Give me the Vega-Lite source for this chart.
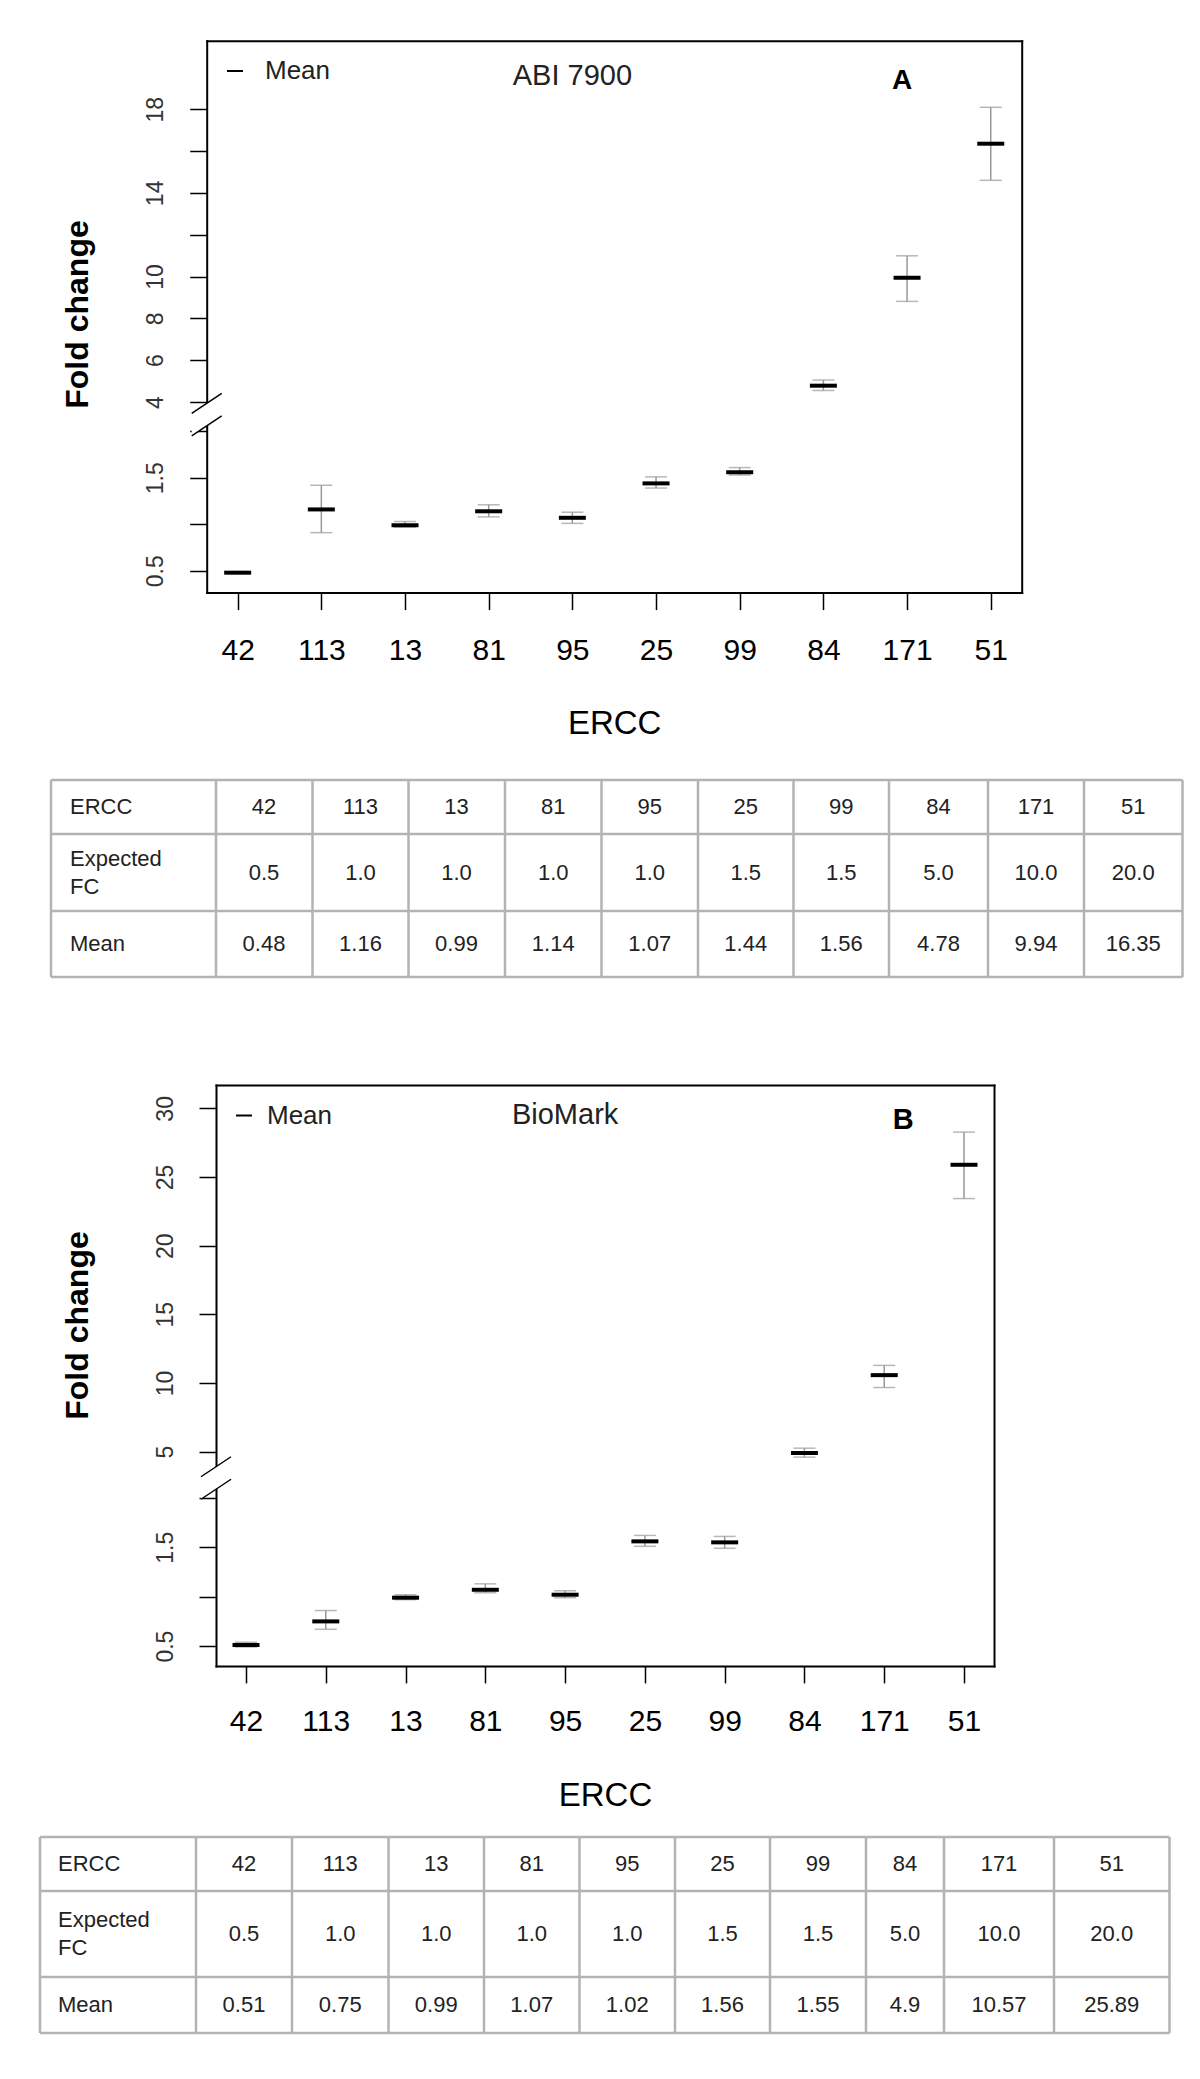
{
"$schema":"https://vega.github.io/schema/vega-lite/v6.json",
"width":1200,"height":2079,"autosize":{"type":"none"},"padding":0,"background":"white",
"config":{
 "view":{"stroke":null},
 "font":"Liberation Sans",
 "axis":{"grid":false,"domainColor":"black","domainWidth":2,"domainCap":"square","tickColor":"black","tickWidth":1.5,"tickSize":17,"labelFont":"Liberation Sans","titleFont":"Liberation Sans","labelOverlap":false,"labelBound":false,"labelFlush":false,"titleColor":"black"}
},
"datasets":{
 "fcA":[
  {"ercc":"42","expected":0.5,"mean":0.48,"lo":0.47,"hi":0.49},
  {"ercc":"113","expected":1.0,"mean":1.16,"lo":0.91,"hi":1.42},
  {"ercc":"13","expected":1.0,"mean":0.99,"lo":0.97,"hi":1.03},
  {"ercc":"81","expected":1.0,"mean":1.14,"lo":1.08,"hi":1.21},
  {"ercc":"95","expected":1.0,"mean":1.07,"lo":1.01,"hi":1.13},
  {"ercc":"25","expected":1.5,"mean":1.44,"lo":1.39,"hi":1.51},
  {"ercc":"99","expected":1.5,"mean":1.56,"lo":1.53,"hi":1.61},
  {"ercc":"84","expected":5.0,"mean":4.78,"lo":4.55,"hi":5.05},
  {"ercc":"171","expected":10.0,"mean":9.94,"lo":8.81,"hi":10.99},
  {"ercc":"51","expected":20.0,"mean":16.35,"lo":14.6,"hi":18.09}],
 "fcB":[
  {"ercc":"42","expected":0.5,"mean":0.51,"lo":0.49,"hi":0.54},
  {"ercc":"113","expected":1.0,"mean":0.75,"lo":0.67,"hi":0.86},
  {"ercc":"13","expected":1.0,"mean":0.99,"lo":0.97,"hi":1.02},
  {"ercc":"81","expected":1.0,"mean":1.07,"lo":1.04,"hi":1.13},
  {"ercc":"95","expected":1.0,"mean":1.02,"lo":0.99,"hi":1.06},
  {"ercc":"25","expected":1.5,"mean":1.56,"lo":1.51,"hi":1.62},
  {"ercc":"99","expected":1.5,"mean":1.55,"lo":1.49,"hi":1.61},
  {"ercc":"84","expected":5.0,"mean":4.9,"lo":4.6,"hi":5.25},
  {"ercc":"171","expected":10.0,"mean":10.57,"lo":9.67,"hi":11.28},
  {"ercc":"51","expected":20.0,"mean":25.89,"lo":23.43,"hi":28.27}],
 "cols":[{"k":0},{"k":1},{"k":2},{"k":3},{"k":4},{"k":5},{"k":6},{"k":7},{"k":8},{"k":9},{"k":10},{"k":11}],
 "rows":[{"k":0},{"k":1},{"k":2},{"k":3}]
},
"layer":[
 {"data":{"name":"fcA"},
  "encoding":{
   "x":{"field":"ercc","type":"nominal","scale":{"type":"point","domain":["42","113","13","81","95","25","99","84","171","51"],"range":[206.7,1021.7],"padding":0.37},
    "axis":{"orient":"bottom","offset":-1486.4,"labelFontSize":30,"labelColor":"black","labelPadding":40.4,"labelBaseline":"middle","labelAngle":0,"labelAlign":"center","title":"ERCC","titleFontSize":33,"titleFontWeight":"normal","titleX":614.2,"titleY":130.4,"titleBaseline":"middle","titleAlign":"center","titleAngle":0}}},
  "layer":[
  {"mark":{"type":"rule","color":"#999999","strokeWidth":1.5},
   "encoding":{
    "y":{"field":"lo","type":"quantitative","scale":{"type":"linear","domain":[0.2656,2.068,3.952,21.275],"range":[592.6,425,403,40.7],"nice":false,"zero":false},
     "axis":{"orient":"left","offset":-206.7,"values":[0.5,1,1.5,2,4,6,8,10,12,14,16,18],"format":"~g","labelExpr":"datum.value==1||datum.value==2||datum.value==12||datum.value==16?'':datum.label","labelAngle":-90,"labelAlign":"center","labelBaseline":"middle","labelPadding":34,"labelFontSize":23,"labelColor":"#333333","title":"Fold change","titleFontSize":32,"titleFontWeight":"bold","titleAngle":270,"titleX":-129.7,"titleY":314,"titleAlign":"center","titleBaseline":"middle"}},
    "y2":{"field":"hi"}}},
  {"mark":{"type":"tick","color":"#999999","thickness":1.5,"size":22,"orient":"horizontal"},
   "encoding":{
    "y":{"field":"lo","type":"quantitative","scale":{"type":"linear","domain":[0.2656,2.068,3.952,21.275],"range":[592.6,425,403,40.7],"nice":false,"zero":false},
     "axis":{"orient":"left","offset":-206.7,"values":[0.5,1,1.5,2,4,6,8,10,12,14,16,18],"format":"~g","labelExpr":"datum.value==1||datum.value==2||datum.value==12||datum.value==16?'':datum.label","labelAngle":-90,"labelAlign":"center","labelBaseline":"middle","labelPadding":34,"labelFontSize":23,"labelColor":"#333333","title":"Fold change","titleFontSize":32,"titleFontWeight":"bold","titleAngle":270,"titleX":-129.7,"titleY":314,"titleAlign":"center","titleBaseline":"middle"}}}},
  {"mark":{"type":"tick","color":"#999999","thickness":1.5,"size":22,"orient":"horizontal"},
   "encoding":{
    "y":{"field":"hi","type":"quantitative","scale":{"type":"linear","domain":[0.2656,2.068,3.952,21.275],"range":[592.6,425,403,40.7],"nice":false,"zero":false},
     "axis":{"orient":"left","offset":-206.7,"values":[0.5,1,1.5,2,4,6,8,10,12,14,16,18],"format":"~g","labelExpr":"datum.value==1||datum.value==2||datum.value==12||datum.value==16?'':datum.label","labelAngle":-90,"labelAlign":"center","labelBaseline":"middle","labelPadding":34,"labelFontSize":23,"labelColor":"#333333","title":"Fold change","titleFontSize":32,"titleFontWeight":"bold","titleAngle":270,"titleX":-129.7,"titleY":314,"titleAlign":"center","titleBaseline":"middle"}}}},
  {"mark":{"type":"tick","thickness":4,"size":27,"orient":"horizontal","opacity":1},
   "encoding":{
    "y":{"field":"mean","type":"quantitative","scale":{"type":"linear","domain":[0.2656,2.068,3.952,21.275],"range":[592.6,425,403,40.7],"nice":false,"zero":false},
     "axis":{"orient":"left","offset":-206.7,"values":[0.5,1,1.5,2,4,6,8,10,12,14,16,18],"format":"~g","labelExpr":"datum.value==1||datum.value==2||datum.value==12||datum.value==16?'':datum.label","labelAngle":-90,"labelAlign":"center","labelBaseline":"middle","labelPadding":34,"labelFontSize":23,"labelColor":"#333333","title":"Fold change","titleFontSize":32,"titleFontWeight":"bold","titleAngle":270,"titleX":-129.7,"titleY":314,"titleAlign":"center","titleBaseline":"middle"}},
    "color":{"datum":"Mean","type":"nominal","scale":{"domain":["Mean"],"range":["black"]},
     "legend":{"orient":"none","legendX":222,"legendY":58,"title":null,"symbolType":"stroke","symbolSize":256,"symbolStrokeWidth":2,"symbolStrokeColor":"black","symbolFillColor":"black","labelFontSize":26,"labelFont":"Liberation Sans","labelColor":"#222222","labelOffset":17,"padding":0}}}}
 ]},
 {"data":{"values":[{}]},"layer":[
  {"mark":{"type":"text","text":"ABI 7900","fontSize":29,"color":"#222222","align":"center","baseline":"middle"},
   "encoding":{
    "x":{"datum":"95","type":"nominal","scale":{"type":"point","domain":["42","113","13","81","95","25","99","84","171","51"],"range":[206.7,1021.7],"padding":0.37},"axis":{"orient":"top","offset":-40.7,"ticks":false,"labels":false,"title":null}},
    "y":{"datum":19.59,"type":"quantitative","scale":{"type":"linear","domain":[0.2656,2.068,3.952,21.275],"range":[592.6,425,403,40.7],"nice":false,"zero":false},"axis":{"orient":"right","offset":-178.3,"ticks":false,"labels":false,"title":null}}}},
  {"mark":{"type":"text","text":"A","fontSize":28,"fontWeight":"bold","color":"black","align":"center","baseline":"middle","dx":-5},
   "encoding":{
    "x":{"datum":"171","type":"nominal","scale":{"type":"point","domain":["42","113","13","81","95","25","99","84","171","51"],"range":[206.7,1021.7],"padding":0.37},"axis":{"orient":"top","offset":-40.7,"ticks":false,"labels":false,"title":null}},
    "y":{"datum":19.33,"type":"quantitative","scale":{"type":"linear","domain":[0.2656,2.068,3.952,21.275],"range":[592.6,425,403,40.7],"nice":false,"zero":false},"axis":{"orient":"right","offset":-178.3,"ticks":false,"labels":false,"title":null}}}}
 ]},
 {"data":{"values":[{}]},"layer":[
  {"mark":{"type":"point","shape":"M-0.6,-0.05L0.6,-0.85L0.6,0.05L-0.6,0.85Z","size":2500,"filled":true,"color":"white","opacity":1,"strokeWidth":0},
   "encoding":{
    "x":{"datum":0,"type":"quantitative","scale":{"domain":[0,1],"range":[206.7,1021.7],"nice":false,"zero":false},"axis":null},
    "y":{"datum":2.96,"type":"quantitative","scale":{"type":"linear","domain":[0.2656,2.068,3.952,21.275],"range":[592.6,425,403,40.7],"nice":false,"zero":false},"axis":null}}},
  {"mark":{"type":"point","shape":"M-0.6,-0.05L0.6,-0.85M-0.6,0.85L0.6,0.05","size":2500,"filled":false,"color":"black","opacity":1,"strokeWidth":1.5},
   "encoding":{
    "x":{"datum":0,"type":"quantitative","scale":{"domain":[0,1],"range":[206.7,1021.7],"nice":false,"zero":false},"axis":null},
    "y":{"datum":2.96,"type":"quantitative","scale":{"type":"linear","domain":[0.2656,2.068,3.952,21.275],"range":[592.6,425,403,40.7],"nice":false,"zero":false},"axis":null}}}
 ]},
 {"layer":[
  {"data":{"name":"cols"},"mark":{"type":"rule","color":"#b3b3b3","strokeWidth":2.5},
   "encoding":{
    "x":{"field":"k","type":"quantitative","scale":{"type":"linear","domain":[0,1,2,3,4,5,6,7,8,9,10,11],"range":[51,216,312.5,408.5,505,601.5,698,793.5,889,988,1084,1182.5],"nice":false,"zero":false},"axis":null},
    "y":{"datum":0,"type":"quantitative","scale":{"type":"linear","domain":[0,1,2,3],"range":[780,834,911,977],"nice":false,"zero":false},"axis":null},
    "y2":{"datum":3}}},
  {"data":{"name":"rows"},"mark":{"type":"rule","color":"#b3b3b3","strokeWidth":2.5},
   "encoding":{
    "y":{"field":"k","type":"quantitative","scale":{"type":"linear","domain":[0,1,2,3],"range":[780,834,911,977],"nice":false,"zero":false},"axis":null},
    "x":{"datum":0,"type":"quantitative","scale":{"type":"linear","domain":[0,1,2,3,4,5,6,7,8,9,10,11],"range":[51,216,312.5,408.5,505,601.5,698,793.5,889,988,1084,1182.5],"nice":false,"zero":false},"axis":null},
    "x2":{"datum":11}}}
 ]},
 {"data":{"name":"fcA"},"transform":[{"window":[{"op":"row_number","as":"col"}]}],"layer":[
  {"mark":{"type":"text","fontSize":22,"color":"#222222","align":"center","baseline":"middle"},
   "encoding":{
    "x":{"field":"col","type":"quantitative","scale":{"type":"linear","domain":[0,1,2,3,4,5,6,7,8,9,10],"range":[70,264,360.5,456.5,553.25,649.75,745.75,841.25,938.5,1036,1133.25],"nice":false,"zero":false},"axis":null},
    "y":{"datum":0,"type":"quantitative","scale":{"type":"linear","domain":[0,1,2],"range":[807,872.5,944],"nice":false,"zero":false},"axis":null},
    "text":{"field":"ercc","type":"nominal"}}},
  {"mark":{"type":"text","fontSize":22,"color":"#222222","align":"center","baseline":"middle"},
   "encoding":{
    "x":{"field":"col","type":"quantitative","scale":{"type":"linear","domain":[0,1,2,3,4,5,6,7,8,9,10],"range":[70,264,360.5,456.5,553.25,649.75,745.75,841.25,938.5,1036,1133.25],"nice":false,"zero":false},"axis":null},
    "y":{"datum":1,"type":"quantitative","scale":{"type":"linear","domain":[0,1,2],"range":[807,872.5,944],"nice":false,"zero":false},"axis":null},
    "text":{"field":"expected","type":"quantitative","format":".1f"}}},
  {"mark":{"type":"text","fontSize":22,"color":"#222222","align":"center","baseline":"middle"},
   "encoding":{
    "x":{"field":"col","type":"quantitative","scale":{"type":"linear","domain":[0,1,2,3,4,5,6,7,8,9,10],"range":[70,264,360.5,456.5,553.25,649.75,745.75,841.25,938.5,1036,1133.25],"nice":false,"zero":false},"axis":null},
    "y":{"datum":2,"type":"quantitative","scale":{"type":"linear","domain":[0,1,2],"range":[807,872.5,944],"nice":false,"zero":false},"axis":null},
    "text":{"field":"mean","type":"nominal"}}},
  {"data":{"values":[{}]},"mark":{"type":"text","text":"ERCC","fontSize":22,"color":"#222222","align":"left","baseline":"middle"},
   "encoding":{
    "x":{"datum":0,"type":"quantitative","scale":{"type":"linear","domain":[0,1,2,3,4,5,6,7,8,9,10],"range":[70,264,360.5,456.5,553.25,649.75,745.75,841.25,938.5,1036,1133.25],"nice":false,"zero":false},"axis":null},
    "y":{"datum":0,"type":"quantitative","scale":{"type":"linear","domain":[0,1,2],"range":[807,872.5,944],"nice":false,"zero":false},"axis":null}}},
  {"data":{"values":[{}]},"mark":{"type":"text","text":["Expected","FC"],"lineHeight":28,"fontSize":22,"color":"#222222","align":"left","baseline":"middle","dy":-14},
   "encoding":{
    "x":{"datum":0,"type":"quantitative","scale":{"type":"linear","domain":[0,1,2,3,4,5,6,7,8,9,10],"range":[70,264,360.5,456.5,553.25,649.75,745.75,841.25,938.5,1036,1133.25],"nice":false,"zero":false},"axis":null},
    "y":{"datum":1,"type":"quantitative","scale":{"type":"linear","domain":[0,1,2],"range":[807,872.5,944],"nice":false,"zero":false},"axis":null}}},
  {"data":{"values":[{}]},"mark":{"type":"text","text":"Mean","fontSize":22,"color":"#222222","align":"left","baseline":"middle"},
   "encoding":{
    "x":{"datum":0,"type":"quantitative","scale":{"type":"linear","domain":[0,1,2,3,4,5,6,7,8,9,10],"range":[70,264,360.5,456.5,553.25,649.75,745.75,841.25,938.5,1036,1133.25],"nice":false,"zero":false},"axis":null},
    "y":{"datum":2,"type":"quantitative","scale":{"type":"linear","domain":[0,1,2],"range":[807,872.5,944],"nice":false,"zero":false},"axis":null}}}
 ]},
 {"data":{"name":"fcB"},
  "encoding":{
   "x":{"field":"ercc","type":"nominal","scale":{"type":"point","domain":["42","113","13","81","95","25","99","84","171","51"],"range":[216,994],"padding":0.376},
    "axis":{"orient":"bottom","offset":-413.1,"labelFontSize":30,"labelColor":"black","labelPadding":38.1,"labelBaseline":"middle","labelAngle":0,"labelAlign":"center","title":"ERCC","titleFontSize":33,"titleFontWeight":"normal","titleX":605,"titleY":129.1,"titleBaseline":"middle","titleAlign":"center","titleAngle":0}}},
  "layer":[
  {"mark":{"type":"rule","color":"#999999","strokeWidth":1.5},
   "encoding":{
    "y":{"field":"lo","type":"quantitative","scale":{"type":"linear","domain":[0.2996,2.09,3.88,31.7],"range":[1665.9,1489,1467,1085],"nice":false,"zero":false},
     "axis":{"orient":"left","offset":-216,"values":[0.5,1,1.5,2,5,10,15,20,25,30],"format":"~g","labelExpr":"datum.value==1||datum.value==2?'':datum.label","labelAngle":-90,"labelAlign":"center","labelBaseline":"middle","labelPadding":34,"labelFontSize":23,"labelColor":"#333333","title":"Fold change","titleFontSize":32,"titleFontWeight":"bold","titleAngle":270,"titleX":-139,"titleY":1325,"titleAlign":"center","titleBaseline":"middle"}},
    "y2":{"field":"hi"}}},
  {"mark":{"type":"tick","color":"#999999","thickness":1.5,"size":22,"orient":"horizontal"},
   "encoding":{
    "y":{"field":"lo","type":"quantitative","scale":{"type":"linear","domain":[0.2996,2.09,3.88,31.7],"range":[1665.9,1489,1467,1085],"nice":false,"zero":false},
     "axis":{"orient":"left","offset":-216,"values":[0.5,1,1.5,2,5,10,15,20,25,30],"format":"~g","labelExpr":"datum.value==1||datum.value==2?'':datum.label","labelAngle":-90,"labelAlign":"center","labelBaseline":"middle","labelPadding":34,"labelFontSize":23,"labelColor":"#333333","title":"Fold change","titleFontSize":32,"titleFontWeight":"bold","titleAngle":270,"titleX":-139,"titleY":1325,"titleAlign":"center","titleBaseline":"middle"}}}},
  {"mark":{"type":"tick","color":"#999999","thickness":1.5,"size":22,"orient":"horizontal"},
   "encoding":{
    "y":{"field":"hi","type":"quantitative","scale":{"type":"linear","domain":[0.2996,2.09,3.88,31.7],"range":[1665.9,1489,1467,1085],"nice":false,"zero":false},
     "axis":{"orient":"left","offset":-216,"values":[0.5,1,1.5,2,5,10,15,20,25,30],"format":"~g","labelExpr":"datum.value==1||datum.value==2?'':datum.label","labelAngle":-90,"labelAlign":"center","labelBaseline":"middle","labelPadding":34,"labelFontSize":23,"labelColor":"#333333","title":"Fold change","titleFontSize":32,"titleFontWeight":"bold","titleAngle":270,"titleX":-139,"titleY":1325,"titleAlign":"center","titleBaseline":"middle"}}}},
  {"mark":{"type":"tick","thickness":4,"size":27,"orient":"horizontal","opacity":1},
   "encoding":{
    "y":{"field":"mean","type":"quantitative","scale":{"type":"linear","domain":[0.2996,2.09,3.88,31.7],"range":[1665.9,1489,1467,1085],"nice":false,"zero":false},
     "axis":{"orient":"left","offset":-216,"values":[0.5,1,1.5,2,5,10,15,20,25,30],"format":"~g","labelExpr":"datum.value==1||datum.value==2?'':datum.label","labelAngle":-90,"labelAlign":"center","labelBaseline":"middle","labelPadding":34,"labelFontSize":23,"labelColor":"#333333","title":"Fold change","titleFontSize":32,"titleFontWeight":"bold","titleAngle":270,"titleX":-139,"titleY":1325,"titleAlign":"center","titleBaseline":"middle"}},
    "color":{"datum":"Mean","type":"nominal","scale":{"domain":["Mean"],"range":["black"]},
     "legend":{"orient":"none","legendX":231,"legendY":1102.5,"title":null,"symbolType":"stroke","symbolSize":256,"symbolStrokeWidth":2,"symbolStrokeColor":"black","symbolFillColor":"black","labelFontSize":26,"labelFont":"Liberation Sans","labelColor":"#222222","labelOffset":10,"padding":0}}}}
 ]},
 {"data":{"values":[{}]},"layer":[
  {"mark":{"type":"text","text":"BioMark","fontSize":29,"color":"#222222","align":"center","baseline":"middle"},
   "encoding":{
    "x":{"datum":"95","type":"nominal","scale":{"type":"point","domain":["42","113","13","81","95","25","99","84","171","51"],"range":[216,994],"padding":0.376},"axis":{"orient":"top","offset":-1085,"ticks":false,"labels":false,"title":null}},
    "y":{"datum":29.55,"type":"quantitative","scale":{"type":"linear","domain":[0.2996,2.09,3.88,31.7],"range":[1665.9,1489,1467,1085],"nice":false,"zero":false},"axis":{"orient":"right","offset":-206,"ticks":false,"labels":false,"title":null}}}},
  {"mark":{"type":"text","text":"B","fontSize":29,"fontWeight":"bold","color":"black","align":"center","baseline":"middle","dx":19},
   "encoding":{
    "x":{"datum":"171","type":"nominal","scale":{"type":"point","domain":["42","113","13","81","95","25","99","84","171","51"],"range":[216,994],"padding":0.376},"axis":{"orient":"top","offset":-1085,"ticks":false,"labels":false,"title":null}},
    "y":{"datum":29.15,"type":"quantitative","scale":{"type":"linear","domain":[0.2996,2.09,3.88,31.7],"range":[1665.9,1489,1467,1085],"nice":false,"zero":false},"axis":{"orient":"right","offset":-206,"ticks":false,"labels":false,"title":null}}}}
 ]},
 {"data":{"values":[{}]},"layer":[
  {"mark":{"type":"point","shape":"M-0.6,-0.05L0.6,-0.85L0.6,0.05L-0.6,0.85Z","size":2500,"filled":true,"color":"white","opacity":1,"strokeWidth":0},
   "encoding":{
    "x":{"datum":0,"type":"quantitative","scale":{"domain":[0,1],"range":[216,994],"nice":false,"zero":false},"axis":null},
    "y":{"datum":2.985,"type":"quantitative","scale":{"type":"linear","domain":[0.2996,2.09,3.88,31.7],"range":[1665.9,1489,1467,1085],"nice":false,"zero":false},"axis":null}}},
  {"mark":{"type":"point","shape":"M-0.6,-0.05L0.6,-0.85M-0.6,0.85L0.6,0.05","size":2500,"filled":false,"color":"black","opacity":1,"strokeWidth":1.5},
   "encoding":{
    "x":{"datum":0,"type":"quantitative","scale":{"domain":[0,1],"range":[216,994],"nice":false,"zero":false},"axis":null},
    "y":{"datum":2.985,"type":"quantitative","scale":{"type":"linear","domain":[0.2996,2.09,3.88,31.7],"range":[1665.9,1489,1467,1085],"nice":false,"zero":false},"axis":null}}}
 ]},
 {"layer":[
  {"data":{"name":"cols"},"mark":{"type":"rule","color":"#b3b3b3","strokeWidth":2.5},
   "encoding":{
    "x":{"field":"k","type":"quantitative","scale":{"type":"linear","domain":[0,1,2,3,4,5,6,7,8,9,10,11],"range":[40,196,292,388.5,484,579.5,675,770,866,944,1054,1169.5],"nice":false,"zero":false},"axis":null},
    "y":{"datum":0,"type":"quantitative","scale":{"type":"linear","domain":[0,1,2,3],"range":[1837,1891,1977,2033],"nice":false,"zero":false},"axis":null},
    "y2":{"datum":3}}},
  {"data":{"name":"rows"},"mark":{"type":"rule","color":"#b3b3b3","strokeWidth":2.5},
   "encoding":{
    "y":{"field":"k","type":"quantitative","scale":{"type":"linear","domain":[0,1,2,3],"range":[1837,1891,1977,2033],"nice":false,"zero":false},"axis":null},
    "x":{"datum":0,"type":"quantitative","scale":{"type":"linear","domain":[0,1,2,3,4,5,6,7,8,9,10,11],"range":[40,196,292,388.5,484,579.5,675,770,866,944,1054,1169.5],"nice":false,"zero":false},"axis":null},
    "x2":{"datum":11}}}
 ]},
 {"data":{"name":"fcB"},"transform":[{"window":[{"op":"row_number","as":"col"}]}],"layer":[
  {"mark":{"type":"text","fontSize":22,"color":"#222222","align":"center","baseline":"middle"},
   "encoding":{
    "x":{"field":"col","type":"quantitative","scale":{"type":"linear","domain":[0,1,2,3,4,5,6,7,8,9,10],"range":[58,244,340.25,436.25,531.75,627.25,722.5,818,905,999,1111.75],"nice":false,"zero":false},"axis":null},
    "y":{"datum":0,"type":"quantitative","scale":{"type":"linear","domain":[0,1,2],"range":[1864,1934,2005],"nice":false,"zero":false},"axis":null},
    "text":{"field":"ercc","type":"nominal"}}},
  {"mark":{"type":"text","fontSize":22,"color":"#222222","align":"center","baseline":"middle"},
   "encoding":{
    "x":{"field":"col","type":"quantitative","scale":{"type":"linear","domain":[0,1,2,3,4,5,6,7,8,9,10],"range":[58,244,340.25,436.25,531.75,627.25,722.5,818,905,999,1111.75],"nice":false,"zero":false},"axis":null},
    "y":{"datum":1,"type":"quantitative","scale":{"type":"linear","domain":[0,1,2],"range":[1864,1934,2005],"nice":false,"zero":false},"axis":null},
    "text":{"field":"expected","type":"quantitative","format":".1f"}}},
  {"mark":{"type":"text","fontSize":22,"color":"#222222","align":"center","baseline":"middle"},
   "encoding":{
    "x":{"field":"col","type":"quantitative","scale":{"type":"linear","domain":[0,1,2,3,4,5,6,7,8,9,10],"range":[58,244,340.25,436.25,531.75,627.25,722.5,818,905,999,1111.75],"nice":false,"zero":false},"axis":null},
    "y":{"datum":2,"type":"quantitative","scale":{"type":"linear","domain":[0,1,2],"range":[1864,1934,2005],"nice":false,"zero":false},"axis":null},
    "text":{"field":"mean","type":"nominal"}}},
  {"data":{"values":[{}]},"mark":{"type":"text","text":"ERCC","fontSize":22,"color":"#222222","align":"left","baseline":"middle"},
   "encoding":{
    "x":{"datum":0,"type":"quantitative","scale":{"type":"linear","domain":[0,1,2,3,4,5,6,7,8,9,10],"range":[58,244,340.25,436.25,531.75,627.25,722.5,818,905,999,1111.75],"nice":false,"zero":false},"axis":null},
    "y":{"datum":0,"type":"quantitative","scale":{"type":"linear","domain":[0,1,2],"range":[1864,1934,2005],"nice":false,"zero":false},"axis":null}}},
  {"data":{"values":[{}]},"mark":{"type":"text","text":["Expected","FC"],"lineHeight":28,"fontSize":22,"color":"#222222","align":"left","baseline":"middle","dy":-14},
   "encoding":{
    "x":{"datum":0,"type":"quantitative","scale":{"type":"linear","domain":[0,1,2,3,4,5,6,7,8,9,10],"range":[58,244,340.25,436.25,531.75,627.25,722.5,818,905,999,1111.75],"nice":false,"zero":false},"axis":null},
    "y":{"datum":1,"type":"quantitative","scale":{"type":"linear","domain":[0,1,2],"range":[1864,1934,2005],"nice":false,"zero":false},"axis":null}}},
  {"data":{"values":[{}]},"mark":{"type":"text","text":"Mean","fontSize":22,"color":"#222222","align":"left","baseline":"middle"},
   "encoding":{
    "x":{"datum":0,"type":"quantitative","scale":{"type":"linear","domain":[0,1,2,3,4,5,6,7,8,9,10],"range":[58,244,340.25,436.25,531.75,627.25,722.5,818,905,999,1111.75],"nice":false,"zero":false},"axis":null},
    "y":{"datum":2,"type":"quantitative","scale":{"type":"linear","domain":[0,1,2],"range":[1864,1934,2005],"nice":false,"zero":false},"axis":null}}}
 ]}
],
"resolve":{"scale":{"x":"independent","y":"independent","color":"independent"},"axis":{"x":"independent","y":"independent"},"legend":{"color":"independent"}}
}
